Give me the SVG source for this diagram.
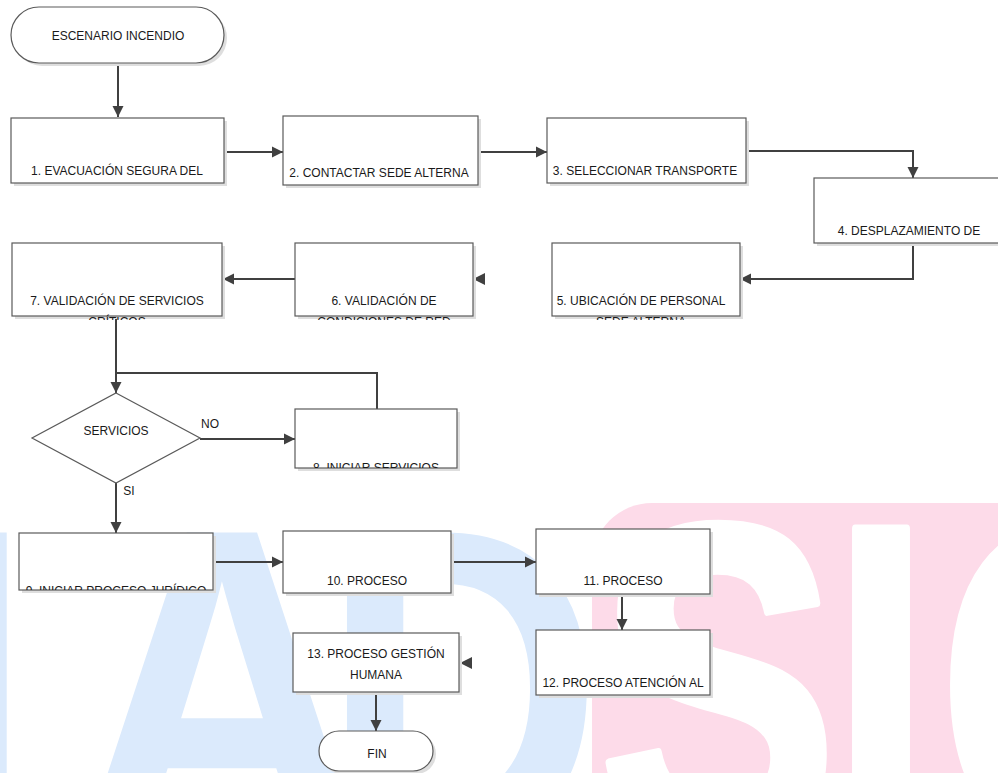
<svg xmlns="http://www.w3.org/2000/svg" width="998" height="773" viewBox="0 0 998 773">
<style>
.wm{font-family:"Liberation Sans",Arial,sans-serif;font-weight:bold;font-size:460px;text-anchor:middle}
.blue{fill:#dbeafc}
.pink{fill:#fddbe9}
.white{fill:#ffffff;stroke:#ffffff;stroke-width:8;stroke-linejoin:round}
.box{fill:#ffffff;stroke:#5a5a5a;stroke-width:1.2}
.sh{fill:#dedede}
.lbl{font-family:"Liberation Sans",Arial,sans-serif;font-size:12px;fill:#1a1a1a;text-anchor:middle}
.conn{fill:none;stroke:#404040;stroke-width:2}
.head{fill:#404040}
</style>
<defs>
<marker id="arr" viewBox="0 0 10 10" refX="10" refY="5" markerWidth="11" markerHeight="12" markerUnits="userSpaceOnUse" orient="auto">
<path d="M0,0 L10,5 L0,10 z" fill="#404040"/>
</marker>
<clipPath id="c5"><rect x="552" y="243" width="188" height="77"/></clipPath>
<clipPath id="c6"><rect x="295" y="243" width="178" height="77"/></clipPath>
<clipPath id="c7"><rect x="12" y="243" width="210" height="77"/></clipPath>
<clipPath id="c8"><rect x="295" y="409" width="162" height="59"/></clipPath>
<clipPath id="c9"><rect x="19" y="533" width="194" height="57"/></clipPath>
</defs>

<g id="watermark">
<text class="wm blue" transform="translate(-130,849) scale(0.85,1)" x="0" y="0">M</text>
<text class="wm blue" transform="translate(222,849) scale(0.9,1)" x="0" y="0">A</text>
<text class="wm blue" transform="translate(462,849) scale(0.85,1)" x="0" y="0">D</text>
<rect class="pink" x="592" y="503" width="470" height="330" rx="60"/>
<text class="wm white" transform="translate(718,845) scale(0.78,1)" x="0" y="0">S</text>
<text class="wm white" transform="translate(881,845) scale(0.78,1)" x="0" y="0">I</text>
<text class="wm white" transform="translate(1068,845) scale(0.78,1)" x="0" y="0">C</text>
</g>

<g id="connectors">
<path class="conn" d="M118,63 V117" marker-end="url(#arr)"/>
<path class="conn" d="M225,152 H283" marker-end="url(#arr)"/>
<path class="conn" d="M478,152 H547" marker-end="url(#arr)"/>
<path class="conn" d="M746,151 H913 V178" marker-end="url(#arr)"/>
<path class="conn" d="M913,243 V279 H740" marker-end="url(#arr)"/>
<polygon class="head" points="473,279 485,273 485,285"/>
<path class="conn" d="M295,279 H223" marker-end="url(#arr)"/>
<path class="conn" d="M116,316 V393" marker-end="url(#arr)"/>
<path class="conn" d="M377,409 V373 H116"/>
<path class="conn" d="M200,439 H295" marker-end="url(#arr)"/>
<path class="conn" d="M116,483 V533" marker-end="url(#arr)"/>
<path class="conn" d="M213,562 H283" marker-end="url(#arr)"/>
<path class="conn" d="M451,562 H536" marker-end="url(#arr)"/>
<path class="conn" d="M622,594 V630" marker-end="url(#arr)"/>
<polygon class="head" points="460,663 472,657 472,669"/>
<path class="conn" d="M376,692 V731" marker-end="url(#arr)"/>
<text class="lbl" x="210" y="428">NO</text>
<text class="lbl" x="129" y="495">SI</text>
</g>

<g id="start">
<rect class="sh" x="14" y="10" width="213" height="56" rx="28"/>
<rect class="box" x="11" y="7" width="213" height="56" rx="28"/>
<text class="lbl" x="118" y="40">ESCENARIO INCENDIO</text>
</g>

<g id="n1">
<rect class="sh" x="14" y="121" width="213" height="65"/>
<rect class="box" x="11" y="118" width="213" height="65"/>
<text class="lbl" x="117" y="175">1. EVACUACIÓN SEGURA DEL</text>
</g>

<g id="n2">
<rect class="sh" x="286" y="119" width="195" height="69"/>
<rect class="box" x="283" y="116" width="195" height="69"/>
<text class="lbl" x="379" y="177">2. CONTACTAR SEDE ALTERNA</text>
</g>

<g id="n3">
<rect class="sh" x="550" y="121" width="199" height="65"/>
<rect class="box" x="547" y="118" width="199" height="65"/>
<text class="lbl" x="645" y="175">3. SELECCIONAR TRANSPORTE</text>
</g>

<g id="n4">
<rect class="sh" x="817" y="181" width="190" height="65"/>
<rect class="box" x="814" y="178" width="190" height="65"/>
<text class="lbl" x="909" y="235">4. DESPLAZAMIENTO DE</text>
</g>

<g id="n5">
<rect class="sh" x="555" y="246" width="188" height="73"/>
<rect class="box" x="552" y="243" width="188" height="73"/>
<g clip-path="url(#c5)">
<text class="lbl" x="641" y="305">5. UBICACIÓN DE PERSONAL</text>
<text class="lbl" x="641" y="326">SEDE ALTERNA</text>
</g>
</g>

<g id="n6">
<rect class="sh" x="298" y="246" width="178" height="73"/>
<rect class="box" x="295" y="243" width="178" height="73"/>
<g clip-path="url(#c6)">
<text class="lbl" x="384" y="305">6. VALIDACIÓN DE</text>
<text class="lbl" x="384" y="326">CONDICIONES DE RED</text>
</g>
</g>

<g id="n7">
<rect class="sh" x="15" y="246" width="210" height="73"/>
<rect class="box" x="12" y="243" width="210" height="73"/>
<g clip-path="url(#c7)">
<text class="lbl" x="117" y="305">7. VALIDACIÓN DE SERVICIOS</text>
<text class="lbl" x="117" y="326">CRÍTICOS</text>
</g>
</g>

<g id="decision">
<polygon class="box" points="116,393 200,438 116,483 32,438"/>
<text class="lbl" x="116" y="435">SERVICIOS</text>
</g>

<g id="n8">
<rect class="sh" x="298" y="412" width="162" height="59"/>
<rect class="box" x="295" y="409" width="162" height="59"/>
<g clip-path="url(#c8)">
<text class="lbl" x="376" y="472">8. INICIAR SERVICIOS</text>
</g>
</g>

<g id="n9">
<rect class="sh" x="22" y="536" width="194" height="57"/>
<rect class="box" x="19" y="533" width="194" height="57"/>
<g clip-path="url(#c9)">
<text class="lbl" x="116" y="595">9. INICIAR PROCESO JURÍDICO</text>
</g>
</g>

<g id="n10">
<rect class="sh" x="286" y="534" width="168" height="62"/>
<rect class="box" x="283" y="531" width="168" height="62"/>
<text class="lbl" x="367" y="585">10. PROCESO</text>
</g>

<g id="n11">
<rect class="sh" x="539" y="532" width="174" height="65"/>
<rect class="box" x="536" y="529" width="174" height="65"/>
<text class="lbl" x="623" y="585">11. PROCESO</text>
</g>

<g id="n12">
<rect class="sh" x="539" y="633" width="174" height="65"/>
<rect class="box" x="536" y="630" width="174" height="65"/>
<text class="lbl" x="623" y="687">12. PROCESO ATENCIÓN AL</text>
</g>

<g id="n13">
<rect class="sh" x="296" y="636" width="166" height="59"/>
<rect class="box" x="293" y="633" width="166" height="59"/>
<text class="lbl" x="376" y="658">13. PROCESO GESTIÓN</text>
<text class="lbl" x="376" y="679">HUMANA</text>
</g>

<g id="fin">
<rect class="sh" x="322" y="734" width="114" height="40" rx="20"/>
<rect class="box" x="319" y="731" width="114" height="40" rx="20"/>
<text class="lbl" x="377" y="758">FIN</text>
</g>
</svg>
